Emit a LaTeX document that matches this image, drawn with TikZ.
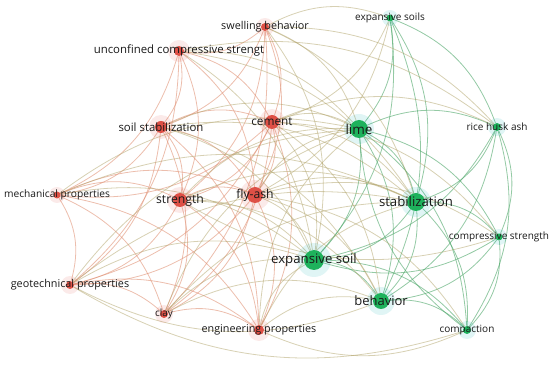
\documentclass[tikz,border=0pt]{standalone}
\usepackage{fontspec}
\setmainfont{Open Sans}
\usetikzlibrary{backgrounds}
\definecolor{voRed}{RGB}{222,80,70}
\definecolor{voGreen}{RGB}{30,178,92}
\definecolor{voText}{RGB}{25,25,25}
\definecolor{redEdge}{RGB}{224,146,118}
\definecolor{greenEdge}{RGB}{76,166,104}
\definecolor{mixEdge}{RGB}{176,162,104}
\tikzset{
  rkw/.style    = {circle, fill=voRed, inner sep=0pt},
  gkw/.style    = {circle, fill=voGreen, inner sep=0pt},
  kwlbl/.style  = {text=voText, inner sep=0pt},
  redge/.style  = {redEdge, line width=0.8pt, opacity=0.6, bend left=24},
  gedge/.style  = {greenEdge, line width=0.8pt, opacity=0.6, bend left=24},
  medge/.style  = {mixEdge, line width=0.8pt, opacity=0.5, bend left=24}
}
\newcommand{\fsz}[1]{\fontsize{#1}{#1}\selectfont}

\begin{document}
\begin{tikzpicture}[x=1pt, y=-1pt]
  \useasboundingbox (0,0) rectangle (550,366);

  % red cluster
  \node[rkw, minimum size=8pt]  (sw)   at (265,27)  {};
  \node[rkw, minimum size=10pt] (ucs)  at (179,51)  {};
  \node[rkw, minimum size=12pt] (ss)   at (161,127) {};
  \node[rkw, minimum size=14pt] (cem)  at (272,122) {};
  \node[rkw, minimum size=7pt]  (mp)   at (57,195)  {};
  \node[rkw, minimum size=14pt] (str)  at (180,200) {};
  \node[rkw, minimum size=16pt] (fa)   at (255,195) {};
  \node[rkw, minimum size=8pt]  (gp)   at (70,285)  {};
  \node[rkw, minimum size=8pt]  (clay) at (164,314) {};
  \node[rkw, minimum size=10pt] (ep)   at (259,330) {};
  % green cluster
  \node[gkw, minimum size=7pt]  (es2)  at (390,18)  {};
  \node[gkw, minimum size=18pt] (lime) at (359,129) {};
  \node[gkw, minimum size=8pt]  (rha)  at (497,127) {};
  \node[gkw, minimum size=18pt] (stab) at (416,202) {};
  \node[gkw, minimum size=7pt]  (cs)   at (499,237) {};
  \node[gkw, minimum size=20pt] (es)   at (314,260) {};
  \node[gkw, minimum size=16pt] (beh)  at (381,301) {};
  \node[gkw, minimum size=8pt]  (comp) at (467,330) {};

  % links
  \begin{scope}[on background layer]
    \foreach \a/\b in {sw/ucs, sw/ss, sw/cem, sw/str, sw/fa, ucs/ss, ucs/cem,
        ucs/str, ucs/fa, ucs/mp, ss/cem, ss/str, ss/fa, ss/mp, ss/gp, ss/clay,
        ss/ep, cem/str, cem/fa, cem/clay, cem/ep, cem/mp, cem/gp, mp/str,
        mp/fa, mp/gp, mp/clay, str/fa, str/gp, str/clay, str/ep, fa/gp,
        fa/clay, fa/ep, gp/clay, gp/ep, clay/ep, sw/clay, ucs/gp, mp/ep}
      \draw[redge] (\a) to (\b);
    \foreach \a/\b in {es2/lime, es2/stab, es2/rha, es2/es, es2/beh, lime/rha,
        lime/stab, lime/cs, lime/es, lime/beh, lime/comp, rha/stab, rha/cs,
        rha/es, rha/beh, rha/comp, stab/cs, stab/es, stab/beh, stab/comp,
        cs/es, cs/beh, cs/comp, es/beh, es/comp, beh/comp, comp/lime}
      \draw[gedge] (\a) to (\b);
    \foreach \a/\b in {sw/lime, sw/es2, sw/stab, sw/es, sw/rha, ucs/lime,
        ucs/es, ucs/stab, ucs/rha, ss/lime, ss/es, ss/stab, ss/beh, cem/lime,
        cem/stab, cem/es, cem/beh, cem/rha, cem/cs, fa/lime, fa/stab, fa/es,
        fa/beh, fa/cs, fa/comp, str/lime, str/es, str/stab, str/beh,
        clay/lime, clay/es, clay/stab, clay/beh, ep/es, ep/beh, ep/stab,
        ep/lime, comp/ep, gp/es, gp/stab, gp/lime, beh/gp, comp/gp, mp/es,
        mp/lime, mp/stab, es2/cem, es2/fa, cs/str}
      \draw[medge] (\a) to (\b);
    % glow round the circles
    \foreach \n/\r in {sw/9, ucs/11, ss/12, cem/13, mp/8, str/13, fa/15,
        gp/9, clay/9, ep/11}
      \fill[voRed, opacity=0.12] (\n) circle (\r);
    \foreach \n/\r in {es2/8, lime/15, rha/9, stab/15, cs/8, es/17, beh/14,
        comp/9}
      \fill[cyan!60!green, opacity=0.12] (\n) circle (\r);
  \end{scope}

  % labels
  \node[kwlbl, font=\fsz{10.8}] (sw-t)   at (sw)   {swelling behavior};
  \node[kwlbl, font=\fsz{11.4}] (ucs-t)  at (ucs)  {unconfined compressive strengt};
  \node[kwlbl, font=\fsz{11.4}] (ss-t)   at (ss)   {soil stabilization};
  \node[kwlbl, font=\fsz{11.8}] (cem-t)  at (cem)  {cement};
  \node[kwlbl, font=\fsz{10.2}] (mp-t)   at (mp)   {mechanical properties};
  \node[kwlbl, font=\fsz{12.2}] (str-t)  at (str)  {strength};
  \node[kwlbl, font=\fsz{12.2}] (fa-t)   at (fa)   {fly-ash};
  \node[kwlbl, font=\fsz{10.8}] (gp-t)   at (gp)   {geotechnical properties};
  \node[kwlbl, font=\fsz{10}]   (clay-t) at (clay) {clay};
  \node[kwlbl, font=\fsz{10.8}] (ep-t)   at (ep)   {engineering properties};
  \node[kwlbl, font=\fsz{10}]   (es2-t)  at (es2)  {expansive soils};
  \node[kwlbl, font=\fsz{13.5}] (lime-t) at (lime) {lime};
  \node[kwlbl, font=\fsz{10}]   (rha-t)  at (rha)  {rice husk ash};
  \node[kwlbl, font=\fsz{13.2}] (stab-t) at (stab) {stabilization};
  \node[kwlbl, font=\fsz{10}]   (cs-t)   at (cs)   {compressive strength};
  \node[kwlbl, font=\fsz{13.2}] (es-t)   at (es)   {expansive soil};
  \node[kwlbl, font=\fsz{13}]   (beh-t)  at (beh)  {behavior};
  \node[kwlbl, font=\fsz{10}]   (comp-t) at (comp) {compaction};
\end{tikzpicture}
\end{document}
